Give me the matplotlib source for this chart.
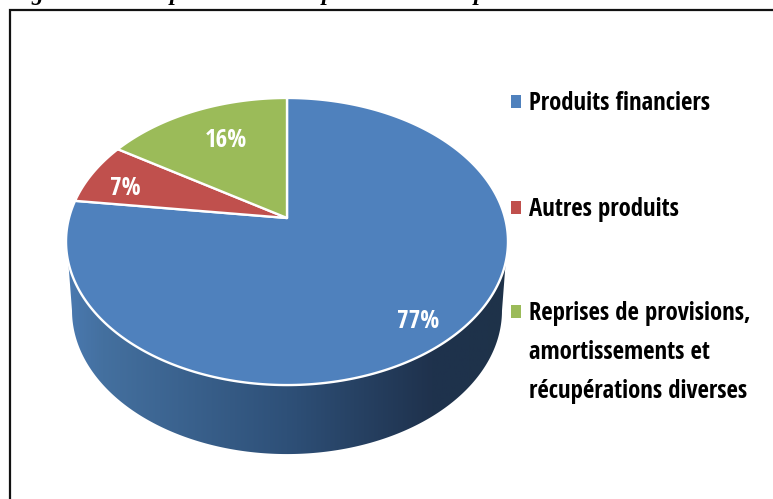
import numpy as np
import matplotlib
matplotlib.use('Agg')
import matplotlib.pyplot as plt
from matplotlib.colors import LinearSegmentedColormap
from matplotlib.patches import Polygon, Rectangle

# values as printed on the slices
categories = ['Produits financiers', 'Autres produits', 'Reprises de provisions,']
category_extra_lines = ['amortissements et', 'récupérations diverses']
shares = [77, 7, 16]
colors = ['#4F81BD', '#C0504D', '#9BBB59']

# the caption above the frame is cut off, only these descenders are left
cut_letters = ['g', 'p', 'p', 'p']
cut_letter_x = [37, 176, 328, 480]

legend_y = [110, 216, 320]
extra_line_y = [359, 398]
label_pos = [(418, 328), (125, 195), (226, 147)]

FONT = ['Open Sans Condensed', 'Lato', 'DejaVu Sans']
LEGEND_SIZE = 17.8
LABEL_SIZE = 18

# perspective of the disc: a circle seen through a homography, in pixels
cx, cy = 287, 218
tilt = 0.1638
ky = 139.7
kx = 218.0
depth = 69
side_shrink = 215 / 221


def project(angle):
    """angle is clockwise from 12 o'clock, in radians"""
    u, v = np.sin(angle), np.cos(angle)
    w = 1 + tilt * v
    return cx + kx * u / w, cy - ky * v / w


fig = plt.figure(figsize=(7.73, 4.99), dpi=100)
ax = fig.add_axes([0, 0, 1, 1])

# side of the cylinder, a horizontal gradient clipped to the outline
theta = np.linspace(0, 2 * np.pi, 721)
xo, yo = project(theta)

keep = yo > 262
order = np.argsort(xo[keep])
outline = np.column_stack([xo[keep][order], yo[keep][order]])

full_x = cx + (xo - cx) * side_shrink
full_y = yo + depth
keep = full_y > 310
order = np.argsort(full_x[keep])
bottom = np.column_stack([full_x[keep][order], full_y[keep][order]])

side_pts = np.vstack([outline[:1], bottom, outline[-1:], outline[::-1]])

grad_cmap = LinearSegmentedColormap.from_list(
    'side', [(0, '#4A79B0'), (0.08, '#44709F'), (0.5, '#2E5078'), (0.83, '#1F324D'), (1, '#1E3249')])
grad = ax.imshow(np.linspace(0, 1, 256).reshape(1, -1), cmap=grad_cmap, aspect='auto',
                 extent=(67, 507, 499, 200), zorder=2)
side_clip = Polygon(side_pts, closed=True, transform=ax.transData, fc='none', ec='none')
ax.add_patch(side_clip)
grad.set_clip_path(side_clip)

ax.set_xlim(0, 773)
ax.set_ylim(499, 0)
ax.axis('off')

# top face, clockwise from 12 o'clock
start = 0.0
for share, color in zip(shares, colors):
    stop = start + share / sum(shares) * 2 * np.pi
    t = np.linspace(start, stop, 300)
    xs, ys = project(t)
    ax.fill(np.r_[cx, xs], np.r_[cy, ys], fc=color, ec='white', lw=1.7, zorder=3, joinstyle='round')
    start = stop

for (lx, ly), share in zip(label_pos, shares):
    ax.text(lx, ly, f'{share}%', color='white', fontsize=LABEL_SIZE, fontweight='bold', family=FONT,
            ha='center', va='baseline', zorder=4)

# legend
for y, label, color in zip(legend_y, categories, colors):
    ax.add_patch(Rectangle((511, y - 15), 10, 13, fc=color, ec='none', zorder=3))
    ax.text(529, y, label, color='black', fontsize=LEGEND_SIZE, fontweight='bold', family=FONT,
            ha='left', va='baseline', zorder=4)

for y, line in zip(extra_line_y, category_extra_lines):
    ax.text(529, y, line, color='black', fontsize=LEGEND_SIZE, fontweight='bold', family=FONT,
            ha='left', va='baseline', zorder=4)

# frame: only the top and left edges are in the crop
ax.plot([10, 10, 773], [499, 9.5, 9.5], color='#111111', lw=1.6, solid_joinstyle='miter', zorder=5)

for letter, x in zip(cut_letters, cut_letter_x):
    ax.text(x, 0, letter, color='black', fontsize=17, fontweight='bold', fontstyle='italic',
            family='Liberation Serif', ha='center', va='baseline', zorder=5)

fig.savefig('out.png', dpi=100)
